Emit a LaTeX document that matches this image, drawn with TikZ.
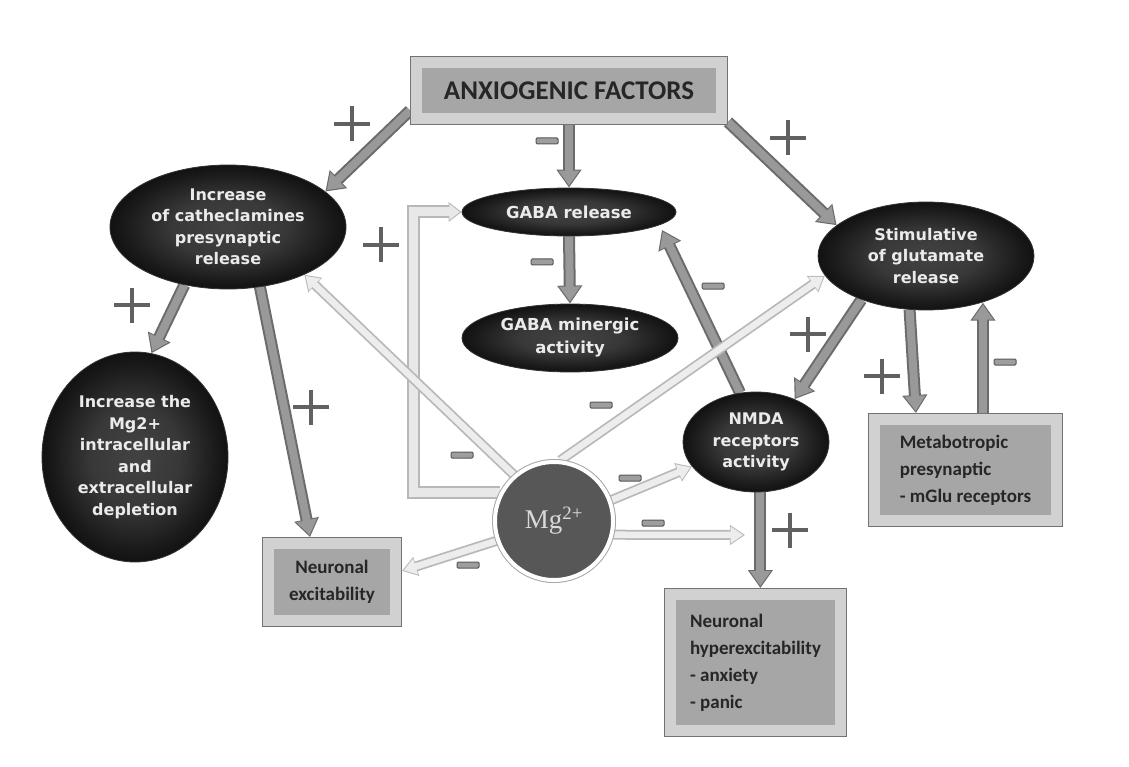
\documentclass[tikz,border=0pt]{standalone}
\usepackage{fontspec}
\newfontfamily\ellfont{DejaVu Sans}
\newfontfamily\boxfont{Carlito}
\newfontfamily\mgfont{Liberation Serif}
\usetikzlibrary{shapes.geometric,arrows.meta,calc}
\pgfdeclarelayer{bg}
\pgfsetlayers{bg,main}
\pgfdeclareradialshading{ellshade}{\pgfpointorigin}{color(0bp)=(black!74);color(12bp)=(black!78);color(22bp)=(black!90);color(30bp)=(black!98);color(50bp)=(black)}
\tikzset{
  ell/.style={ellipse, shade, shading=ellshade, draw=black!80, line width=0.8pt, inner sep=0pt,
    text=white!92!black, align=center, font=\ellfont\bfseries\fontsize{16}{21.5}\selectfont},
  framebox/.style={rectangle, inner sep=0pt, fill=black!35, draw=black!18, line width=11pt, outer sep=6.5pt,
    preaction={draw=black!55, line width=13pt}, text=black!85,
    font=\boxfont\bfseries\fontsize{19}{27}\selectfont},
  mgnode/.style={circle, minimum size=118pt, inner sep=0pt, fill=black!66, draw=white, line width=4pt,
    preaction={draw=black!35, line width=6pt}, text=white!85!black,
    font=\mgfont\fontsize{27}{30}\selectfont},
  dout/.style={line width=12pt, draw=black!58, -{Triangle[length=18pt,width=24pt]}},
  din/.style={line width=8pt, draw=black!40, shorten >=2pt, -{Triangle[length=15pt,width=20pt]}},
  lout/.style={line width=10pt, draw=black!28, -{Triangle[length=15pt,width=19pt]}},
  lin/.style={line width=6.5pt, draw=black!7, shorten >=1.8pt, -{Triangle[length=12.5pt,width=15.8pt]}},
  bout/.style={line width=13pt, draw=black!28, line join=miter, -{Triangle[length=13pt,width=19pt]}},
  bin/.style={line width=9pt, draw=black!9, line join=miter, shorten >=1.8pt, -{Triangle[length=10.5pt,width=15.4pt]}},
  plussign/.style={minimum width=36pt, minimum height=35pt, inner sep=0pt,
    path picture={\draw[black!62, line width=4pt] (path picture bounding box.north) -- (path picture bounding box.south)
      (path picture bounding box.west) -- (path picture bounding box.east);}},
  minussign/.style={rectangle, minimum width=22pt, minimum height=6pt, inner sep=0pt,
    fill=black!38, draw=black!65, line width=1pt, rounded corners=1.2pt}
}
\newcommand\drawdark[1]{\draw[dout] #1; \draw[din] #1;}
\newcommand\drawlight[1]{\draw[lout] #1; \draw[lin] #1;}
\begin{document}
\begin{tikzpicture}[x=1pt,y=-1pt]
\useasboundingbox (0,0) rectangle (1129,767);

% boxes and ellipses
\node[framebox, minimum width=305pt, minimum height=56pt, font=\boxfont\bfseries\fontsize{27}{30}\selectfont] (anx) at (569,91) {ANXIOGENIC FACTORS};
\node[ell, minimum width=236pt, minimum height=124pt] (cat) at (228,227) {Increase\\of catheclamines\\presynaptic\\release};
\node[ell, minimum width=214pt, minimum height=48pt, font=\ellfont\bfseries\fontsize{16.5}{22}\selectfont] (gabar) at (569,212) {GABA release};
\node[ell, minimum width=216pt, minimum height=68pt, font=\ellfont\bfseries\fontsize{16.5}{23}\selectfont] (gabam) at (570,338) {GABA minergic\\activity};
\node[ell, minimum width=216pt, minimum height=108pt] (glu) at (926,256) {Stimulative\\of glutamate\\release};
\node[ell, minimum width=186pt, minimum height=210pt] (dep) at (135,457) {Increase the\\Mg2+\\intracellular\\and\\extracellular\\depletion};
\node[ell, minimum width=146pt, minimum height=100pt] (nmda) at (756,442) {NMDA\\receptors\\activity};
\node[mgnode] (mg) at (554,521) {Mg\textsuperscript{2+}};
\node[framebox, minimum width=127pt, minimum height=77pt, align=center] (nexc) at (332,582) {Neuronal\\excitability};
\node[framebox, minimum width=182pt, minimum height=101pt, align=left] (meta) at (965.5,470) {Metabotropic\\presynaptic\\- mGlu receptors};
\node[framebox, minimum width=170pt, minimum height=136pt, align=left] (hyp) at (755.5,662.5) {Neuronal\\hyperexcitability\\- anxiety\\- panic};

\coordinate (brk) at (413,212);
\coordinate (mgend) at (745,535);

% signs
\node[plussign] (p1) at (352,124) {};
\node[plussign] (p2) at (788,138) {};
\node[plussign] (p3) at (381,245) {};
\node[plussign] (p4) at (132,305) {};
\node[plussign] (p5) at (311,407) {};
\node[plussign] (p6) at (808,334) {};
\node[plussign] (p7) at (882,376) {};
\node[plussign] (p8) at (790,530) {};
\node[minussign] (n1) at (547,141) {};
\node[minussign] (n2) at (542,262) {};
\node[minussign] (n3) at (713,286) {};
\node[minussign] (n4) at (601,405) {};
\node[minussign] (n5) at (462,455) {};
\node[minussign] (n6) at (630,478) {};
\node[minussign] (n7) at (653,523) {};
\node[minussign] (n8) at (468,565) {};
\node[minussign] (n9) at (1005,362) {};

\begin{pgfonlayer}{bg}
\fill[white] (0,0) rectangle (1129,767);
\drawdark{(anx.187) -- (cat.20)}
\drawdark{(anx.south) -- (gabar.north)}
\drawdark{(anx.-11) -- (glu.161)}
\drawdark{(cat.233) -- (dep.81)}
\drawdark{(cat.298) -- (nexc.116)}
\drawdark{(gabar.south) -- (gabam.north)}
\drawdark{(nmda.108) -- ([shift={(93,18)}]gabar.center)}
\drawdark{(glu.214) -- (nmda.48)}
\drawdark{(glu.253) -- (meta.131)}
\drawdark{(meta.73) -- (meta.73 |- glu.-40)}
\drawdark{(nmda.-85) -- (nmda.-85 |- hyp.north)}
\draw[bout] (mg.152) -| (brk) -- (gabar.west);
\draw[bin] (mg.152) -| (brk) -- (gabar.west);
\drawlight{(mg.131) -- (cat.-32)}
\drawlight{(mg.84) -- (glu.191)}
\drawlight{(mg.20) -- (nmda.201)}
\drawlight{(mg.-13) -- (mgend)}
\drawlight{(mg.199) -- (nexc.9)}
\end{pgfonlayer}
\end{tikzpicture}
\end{document}
